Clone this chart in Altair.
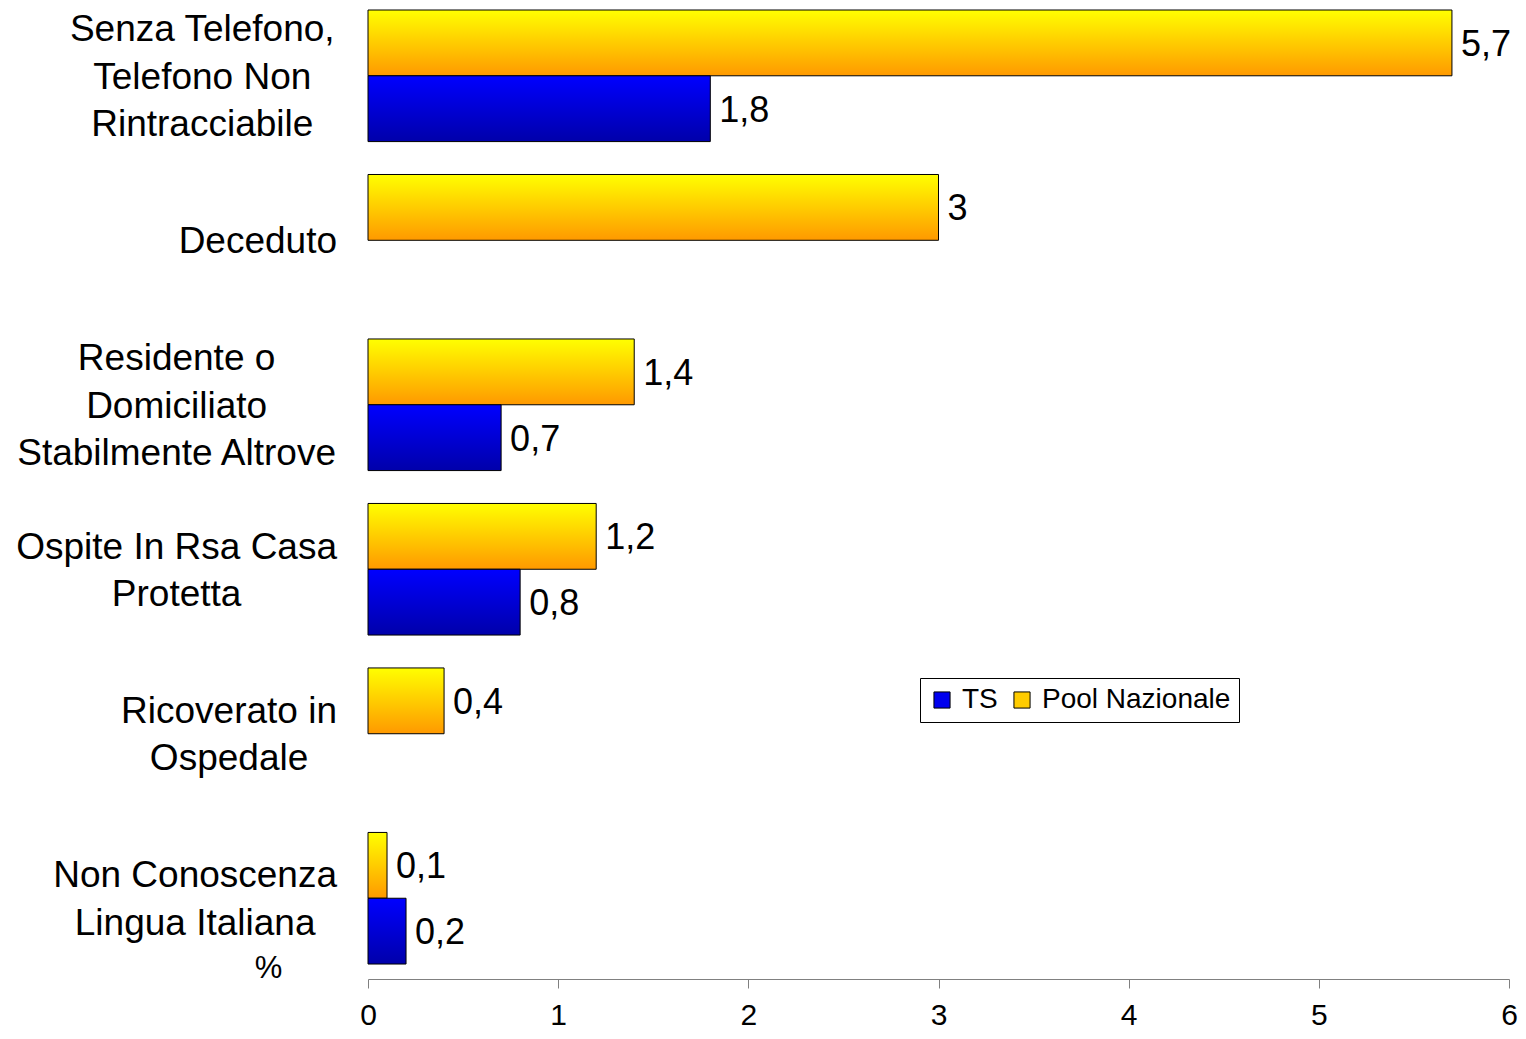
import altair as alt
import pandas as pd

# ---- data ----
categories = [
    "Senza Telefono, Telefono Non Rintracciabile",
    "Deceduto",
    "Residente o Domiciliato Stabilmente Altrove",
    "Ospite In Rsa Casa Protetta",
    "Ricoverato in Ospedale",
    "Non Conoscenza Lingua Italiana",
]
label_lines = [
    ["Senza Telefono,", "Telefono Non", "Rintracciabile"],
    ["Deceduto"],
    ["Residente o", "Domiciliato", "Stabilmente Altrove"],
    ["Ospite In Rsa Casa", "Protetta"],
    ["Ricoverato in", "Ospedale"],
    ["Non Conoscenza", "Lingua Italiana"],
]
series_names = ["Pool Nazionale", "TS"]
pool_values = [5.7, 3, 1.4, 1.2, 0.4, 0.1]
ts_values = [1.8, None, 0.7, 0.8, None, 0.2]
x_ticks = [0, 1, 2, 3, 4, 5, 6]

# ---- layout constants ----
PLOT_W = 1141
PLOT_H = 969
X_MAX = 6
PX_PER_UNIT = PLOT_W / X_MAX
FONT = "Liberation Sans"
CAT_FS = 37
LINE_H = 47.5
LABEL_RIGHT_PX = -31  # right edge of category label blocks, relative to plot

# Arial / Liberation Sans advance widths (per 1000 em)
W = {
    "S": 667, "T": 611, "N": 722, "R": 722, "D": 722, "O": 778, "P": 667,
    "L": 556, "C": 722, "I": 278, "A": 667,
    "a": 556, "b": 556, "c": 500, "d": 556, "e": 556, "f": 278, "g": 556,
    "h": 556, "i": 222, "l": 222, "m": 833, "n": 556, "o": 556, "p": 556,
    "r": 333, "s": 500, "t": 278, "u": 556, "v": 500, "z": 500,
    " ": 278, ",": 278,
}


def text_w(s, fs):
    return sum(W.get(ch, 556) for ch in s) * fs / 1000.0


rows = []
for cat, p, t in zip(categories, pool_values, ts_values):
    if p is not None:
        rows.append({"category": cat, "series": "Pool Nazionale", "value": p,
                     "label": f"{p:g}".replace(".", ",")})
    if t is not None:
        rows.append({"category": cat, "series": "TS", "value": t,
                     "label": f"{t:g}".replace(".", ",")})
df = pd.DataFrame(rows)

lab_rows = []
for cat, lines in zip(categories, label_lines):
    wmax = max(text_w(s, CAT_FS) for s in lines)
    lab_rows.append({"category": cat, "lines": lines, "n": len(lines),
                     "cx": (LABEL_RIGHT_PX - wmax / 2) / PX_PER_UNIT})
df_lab = pd.DataFrame(lab_rows)

x_scale = alt.Scale(domain=[0, X_MAX], nice=False, zero=True)
y_scale = alt.Scale(domain=categories, paddingInner=0.2, paddingOuter=0.0455, align=0)
yoff_scale = alt.Scale(domain=series_names, paddingInner=0, paddingOuter=0)

y_enc = alt.Y("category:N", scale=y_scale, axis=None, sort=categories)
yoff_enc = alt.YOffset("series:N", scale=yoff_scale, sort=series_names)

x_axis = alt.Axis(
    values=x_ticks, format="d", grid=False, tickSize=9, tickColor="#808080",
    domainColor="#808080", domainWidth=1, tickWidth=1, labelFlush=False,
    labelFontSize=30, labelColor="black", labelPadding=12, labelFont=FONT,
    title="%", titleX=-100, titleY=-11, titleAlign="center", titleBaseline="middle",
    titleFontSize=31, titleFontWeight="normal", titleColor="black", titleFont=FONT,
)

pool_grad = alt.Gradient(
    gradient="linear", x1=0, x2=0, y1=0, y2=1,
    stops=[alt.GradientStop(color="#FFFF00", offset=0),
           alt.GradientStop(color="#FF9900", offset=1)],
)
ts_grad = alt.Gradient(
    gradient="linear", x1=0, x2=0, y1=0, y2=1,
    stops=[alt.GradientStop(color="#0000FF", offset=0),
           alt.GradientStop(color="#0000AA", offset=1)],
)

base = alt.Chart(df)

pool_bars = base.transform_filter(alt.datum.series == "Pool Nazionale").mark_bar(
    fill=pool_grad, stroke="black", strokeWidth=1
).encode(x=alt.X("value:Q", scale=x_scale, axis=x_axis), y=y_enc, yOffset=yoff_enc)

ts_bars = base.transform_filter(alt.datum.series == "TS").mark_bar(
    fill=ts_grad, stroke="black", strokeWidth=1
).encode(x=alt.X("value:Q", scale=x_scale), y=y_enc, yOffset=yoff_enc)

value_text = base.mark_text(
    align="left", baseline="middle", dx=9, dy=2, fontSize=36, font=FONT, color="black"
).encode(x=alt.X("value:Q", scale=x_scale), y=y_enc, yOffset=yoff_enc, text="label:N")

legend_layer = base.mark_square(opacity=0, size=0).encode(
    x=alt.X("value:Q", scale=x_scale),
    y=y_enc,
    color=alt.Color(
        "series:N",
        scale=alt.Scale(domain=["TS", "Pool Nazionale"], range=["#0000EE", "#FFCC00"]),
        legend=alt.Legend(
            orient="none", legendX=552, legendY=668, direction="horizontal",
            title=None, fillColor="white", strokeColor="black", padding=8,
            symbolType="square", symbolSize=260, symbolOpacity=1,
            symbolStrokeColor="black", symbolStrokeWidth=1,
            labelFontSize=28, labelFont=FONT, labelColor="black",
            labelOffset=6, columnPadding=10, labelLimit=400,
        ),
    ),
)

cat_layers = []
for n in sorted(set(len(l) for l in label_lines)):
    cat_layers.append(
        alt.Chart(df_lab).transform_filter(alt.datum.n == n).mark_text(
            align="center", baseline="middle", fontSize=CAT_FS, font=FONT,
            color="black", lineHeight=LINE_H, dy=2 - (n - 1) * LINE_H / 2,
        ).encode(x=alt.X("cx:Q", scale=x_scale), y=y_enc, text="lines:N")
    )

chart = alt.layer(pool_bars, ts_bars, value_text, legend_layer, *cat_layers).properties(
    width=PLOT_W, height=PLOT_H,
    autosize=alt.AutoSizeParams(type="none"),
    padding={"left": 360, "top": 2, "right": 9, "bottom": 52},
).configure(font=FONT).configure_view(strokeWidth=0, stroke=None)

chart.save("out.html", embed_options={"renderer": "svg", "actions": False})
